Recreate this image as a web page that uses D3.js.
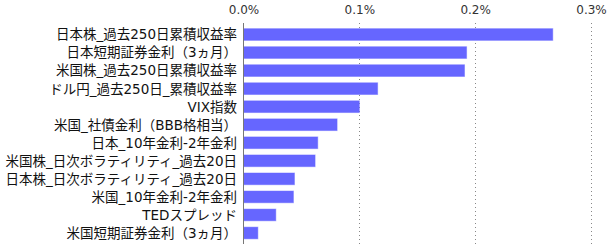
<!DOCTYPE html>
<html><head><meta charset="utf-8">
<script src="https://cdn.jsdelivr.net/npm/d3@7"></script>
<style>body{margin:0;background:#fff;} svg{display:block;}</style>
</head><body>
<script>
const categories = ["日本株_過去250日累積収益率","日本短期証券金利（3ヵ月）","米国株_過去250日累積収益率","ドル円_過去250日_累積収益率","VIX指数","米国_社債金利（BBB格相当）","日本_10年金利-2年金利","米国株_日次ボラティリティ_過去20日","日本株_日次ボラティリティ_過去20日","米国_10年金利-2年金利","TEDスプレッド","米国短期証券金利（3ヵ月）"];
const values = [0.267, 0.1926, 0.1908, 0.1158, 0.1000, 0.0808, 0.0641, 0.0618, 0.0440, 0.0431, 0.0279, 0.0124];
const tickValues = [0, 0.1, 0.2, 0.3];
const tickLabels = ["0.0%","0.1%","0.2%","0.3%"];

const W = 615, H = 244;
const svg = d3.select("body").append("svg").attr("width", W).attr("height", H);
const x = d3.scaleLinear().domain([0, 0.3]).range([243.5, 591]);
const y = d3.scaleBand().domain(categories).range([25.5, 242]).paddingInner(0.35).paddingOuter(0.175);

// gridlines
svg.append("g").selectAll("line").data(tickValues.slice(1)).join("line")
  .attr("x1", d => Math.round(x(d)) + 0.5).attr("x2", d => Math.round(x(d)) + 0.5)
  .attr("y1", 23).attr("y2", 244)
  .attr("stroke", "#888").attr("stroke-width", 1).attr("stroke-dasharray", "1,3");

// top axis labels
const ax = d3.axisTop(x).tickValues(tickValues).tickFormat((d,i) => tickLabels[i]).tickSize(0).tickPadding(0);
const axG = svg.append("g").attr("transform", "translate(0,14)").call(ax);
axG.select(".domain").remove();
axG.selectAll("text").attr("font-family", "DejaVu Sans, Verdana, sans-serif").attr("font-size", "12px").attr("fill", "#333").attr("dy", 0);

// bars
svg.append("g").selectAll("rect").data(values).join("rect")
  .attr("x", x(0)).attr("y", (d,i) => y(categories[i]))
  .attr("width", d => x(d) - x(0)).attr("height", y.bandwidth())
  .attr("fill", "#6666ff").attr("stroke", "rgba(102,102,255,0.45)").attr("stroke-width", 1);

// axis line
svg.append("line").attr("x1", 243.5).attr("x2", 243.5).attr("y1", 23).attr("y2", 244).attr("stroke", "#777");

// category labels
svg.append("g").selectAll("text").data(categories).join("text")
  .attr("x", 237).attr("y", d => y(d) + y.bandwidth()/2)
  .attr("dy", "0.36em").attr("text-anchor", "end")
  .attr("font-family", "'DejaVu Sans', 'Noto Sans CJK JP', sans-serif").attr("font-size", "13.5px").attr("fill", "#111")
  .text(d => d);
</script>
</body></html>
